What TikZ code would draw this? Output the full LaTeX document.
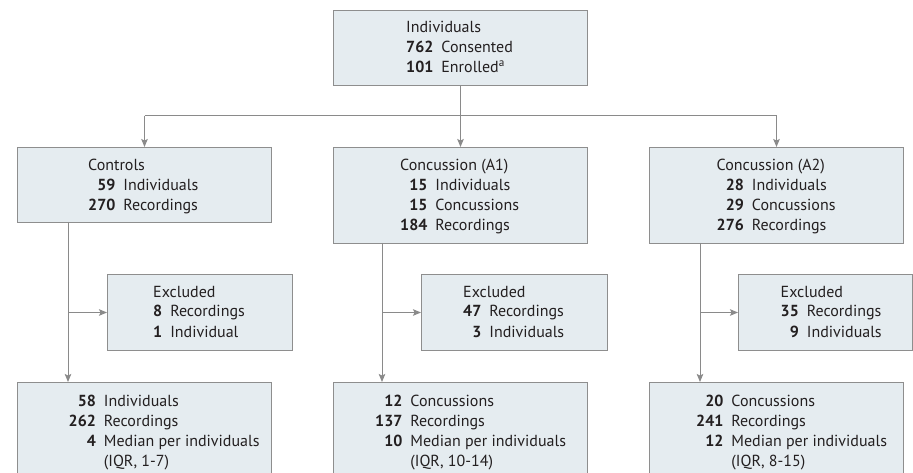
\documentclass[tikz,border=0pt]{standalone}
\usepackage{fontspec}
\setmainfont{PT Sans}
\usetikzlibrary{arrows.meta}
\definecolor{boxfill}{HTML}{E5ECF0}
\definecolor{boxline}{HTML}{8E8E8E}
\definecolor{lnk}{HTML}{8A8A8A}
\definecolor{ink}{HTML}{231F20}
\newcommand{\rowsT}[2]{\begin{tabular}[t]{@{}r@{\hspace{8pt}}l@{}}\multicolumn{2}{@{}l@{}}{#1}\\#2\end{tabular}}
\newcommand{\rowsN}[1]{\begin{tabular}[t]{@{}r@{\hspace{8pt}}l@{}}#1\end{tabular}}
\tikzset{
  box/.style={draw=boxline, fill=boxfill, line width=1pt, inner sep=0pt, anchor=north west, shape=rectangle},
  txt/.style={anchor=base west, inner sep=0pt, text=ink, font=\fontsize{16}{20}\selectfont},
  link/.style={draw=lnk, line width=1pt},
  arr/.style={link, -{Stealth[length=8pt, width=6.5pt, inset=1.5pt]}},
}
\begin{document}
\begin{tikzpicture}[x=1pt, y=-1pt]
\clip (0,0) rectangle (913,473);
\fill[white] (0,0) rectangle (913,473);
% boxes
\node[box, minimum width=254pt, minimum height=75pt] (top) at (333,10) {};
\node[box, minimum width=254pt, minimum height=75pt] (ctl) at (17,147) {};
\node[box, minimum width=254pt, minimum height=96pt] (a1) at (333,147) {};
\node[box, minimum width=254pt, minimum height=96pt] (a2) at (649,147) {};
\node[box, minimum width=185pt, minimum height=76pt] (ex1) at (107,274) {};
\node[box, minimum width=186pt, minimum height=76pt] (ex2) at (421,274) {};
\node[box, minimum width=174pt, minimum height=76pt] (ex3) at (738,274) {};
\node[box, minimum width=254pt, minimum height=110pt] (b1) at (17,382) {};
\node[box, minimum width=254pt, minimum height=110pt] (b2) at (333,382) {};
\node[box, minimum width=254pt, minimum height=110pt] (b3) at (649,382) {};
% texts
\node[txt] (topT) at (406,33) {\rowsT{Individuals}{\textbf{762} & Consented\\ \textbf{101} & Enrolled\textsuperscript{a}}};
\node[txt] (ctlT) at (88,171) {\rowsT{Controls}{\textbf{59} & Individuals\\ \textbf{270} & Recordings}};
\node[txt] (a1T) at (400,171) {\rowsT{Concussion (A1)}{\textbf{15} & Individuals\\ \textbf{15} & Concussions\\ \textbf{184} & Recordings}};
\node[txt] (a2T) at (716.5,171) {\rowsT{Concussion (A2)}{\textbf{28} & Individuals\\ \textbf{29} & Concussions\\ \textbf{276} & Recordings}};
\node[txt] (ex1T) at (153,297) {\rowsT{Excluded}{\textbf{8} & Recordings\\ \textbf{1} & Individual}};
\node[txt] (ex2T) at (463,297) {\rowsT{Excluded}{\textbf{47} & Recordings\\ \textbf{3} & Individuals}};
\node[txt] (ex3T) at (780.5,297) {\rowsT{Excluded}{\textbf{35} & Recordings\\ \textbf{9} & Individuals}};
\node[txt] (b1T) at (68.5,406) {\rowsN{\textbf{58} & Individuals\\ \textbf{262} & Recordings\\ \textbf{4} & Median per individuals\\ & (IQR, 1-7)}};
\node[txt] (b2T) at (375,406) {\rowsN{\textbf{12} & Concussions\\ \textbf{137} & Recordings\\ \textbf{10} & Median per individuals\\ & (IQR, 10-14)}};
\node[txt] (b3T) at (696,406) {\rowsN{\textbf{20} & Concussions\\ \textbf{241} & Recordings\\ \textbf{12} & Median per individuals\\ & (IQR, 8-15)}};
% connectors
\coordinate (hl) at (ctl.north |- 0,116);
\coordinate (hr) at (a2.north |- 0,116);
\draw[link] (hl) -- (hr);
\draw[arr] (top.south) -- (a1.north);
\draw[arr] (hl) -- (ctl.north);
\draw[arr] (hr) -- (a2.north);
\coordinate (c1) at (68,222);
\coordinate (c2) at (382,243);
\coordinate (c3) at (700,243);
\draw[arr] (c1) -- (c1 |- b1.north);
\draw[arr] (c2) -- (c2 |- b2.north);
\draw[arr] (c3) -- (c3 |- b3.north);
\draw[arr] (c1 |- ex1.west) -- (ex1.west);
\draw[arr] (c2 |- ex2.west) -- (ex2.west);
\draw[arr] (c3 |- ex3.west) -- (ex3.west);
\end{tikzpicture}
\end{document}
